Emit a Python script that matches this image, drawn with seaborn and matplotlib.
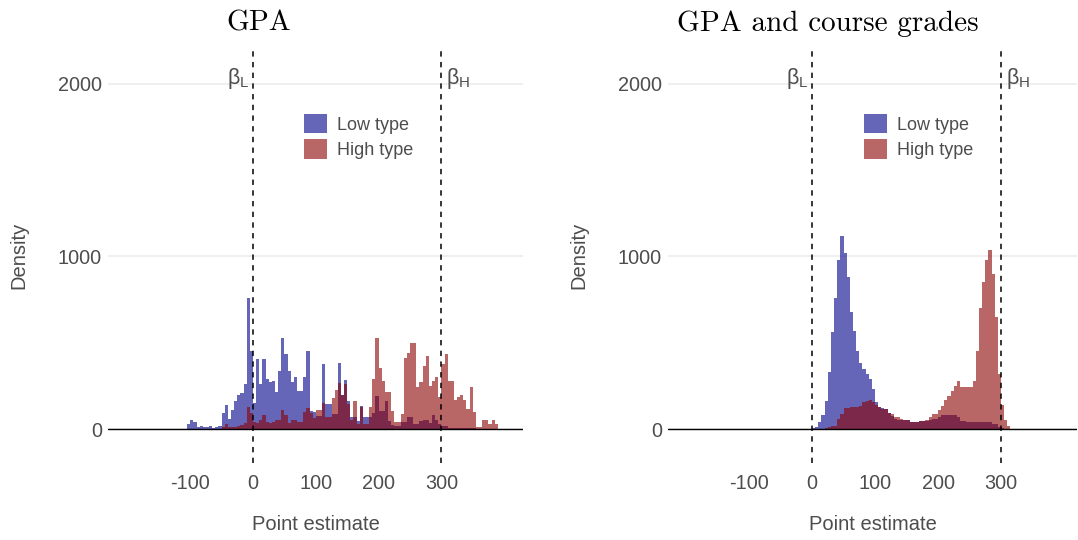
import numpy as np
import pandas as pd
import matplotlib
matplotlib.use("Agg")
import matplotlib.pyplot as plt
import matplotlib.transforms as mtransforms
from matplotlib.patches import Patch
import seaborn as sns

# ---------------- data (bin heights) ----------------
bin_width = 5
gpa_start = -105          # first bin edge, "GPA" panel
both_start = 0            # first bin edge, "GPA and course grades" panel

gpa_low = [30, 50, 40, 10, 15, 12, 10, 20, 8, 10, 15, 90, 140, 60, 110, 160, 200, 210, 260, 760,
           450, 150, 405, 260, 405, 290, 275, 280, 212, 337, 530, 434, 337, 270, 299, 222, 222, 299, 453, 106,
           100, 77, 77, 376, 145, 145, 87, 87, 385, 200, 283, 164, 67, 67, 48, 131, 67, 67, 67, 90,
           193, 106, 106, 164, 48, 25, 19, 19, 38, 38, 67, 67, 29, 29, 45, 50, 50, 35, 79, 50,
           31, 15, 15, 8, 8, 8, 8, 8, 8, 8, 8, 8, 0, 0, 0, 0, 0, 0, 0]
gpa_high = [0, 0, 0, 0, 0, 0, 0, 0, 0, 0, 0, 13, 29, 13, 13, 13, 19, 25, 33, 129,
            90, 42, 33, 52, 81, 42, 33, 42, 52, 52, 110, 81, 33, 52, 52, 42, 42, 100, 120, 90,
            62, 110, 110, 148, 71, 71, 177, 225, 264, 200, 260, 145, 52, 164, 29, 125, 29, 29, 125, 289,
            530, 356, 279, 212, 212, 106, 38, 38, 87, 414, 443, 501, 501, 241, 272, 368, 426, 252, 281, 300,
            185, 378, 435, 281, 281, 166, 185, 200, 166, 118, 243, 98, 12, 12, 54, 54, 27, 50, 30]

both_low = [3, 12, 40, 80, 160, 330, 560, 760, 980, 1120, 1020, 880, 680, 570, 450, 380, 350, 318, 289, 231,
            154, 130, 120, 116, 95, 77, 60, 50, 55, 50, 50, 40, 38, 40, 48, 48, 48, 55, 58, 58,
            70, 83, 83, 83, 83, 80, 70, 48, 45, 38, 38, 38, 38, 38, 38, 38, 38, 29, 29, 12,
            8, 0, 0]
both_high = [0, 0, 0, 0, 5, 10, 15, 20, 58, 87, 119, 119, 125, 125, 130, 135, 154, 160, 170, 154,
             140, 130, 116, 116, 95, 87, 70, 67, 60, 55, 50, 40, 38, 40, 48, 48, 50, 70, 87, 87,
             110, 135, 170, 190, 220, 250, 280, 245, 241, 241, 241, 280, 450, 700, 850, 980, 1040, 900, 650, 320,
             140, 50, 15]

x_ticks = [-100, 0, 100, 200, 300]
y_ticks = [0, 1000, 2000]
beta_low, beta_high = 0, 300
series_names = ["Low type", "High type"]
titles = ["GPA", "GPA and course grades"]

# ---------------- style ----------------
sns.set_theme(style="white")
plt.rcParams["font.family"] = ["Liberation Sans", "DejaVu Sans"]
plt.rcParams["axes.unicode_minus"] = False

LOW_C = "#00008B"
HIGH_C = "#8B0000"
TXT = "#4D4D4D"

W, H = 1078, 540
fig = plt.figure(figsize=(W / 100, H / 100), dpi=100)


def axes_px(l, t, r, b):
    return fig.add_axes([l / W, 1 - b / H, (r - l) / W, (b - t) / H])


def panel(ax, start, low, high, xlim):
    n = len(low)
    centers = start + bin_width * (np.arange(n) + 0.5)
    for vals, col in ((low, LOW_C), (high, HIGH_C)):
        df = pd.DataFrame({"x": centers, "w": np.asarray(vals, dtype=float)})
        sns.histplot(data=df, x="x", weights="w", binwidth=bin_width,
                     binrange=(start, start + bin_width * n), element="step", fill=True,
                     color=col, alpha=0.6, linewidth=0, ax=ax)
    ax.set_xlim(*xlim)
    ax.set_ylim(-197, 2214)
    ax.set_xticks(x_ticks)
    ax.set_yticks(y_ticks)
    ax.grid(axis="y", color="#EBEBEB", lw=1.1)
    ax.grid(axis="x", visible=False)
    ax.set_axisbelow(True)
    for s in ax.spines.values():
        s.set_visible(False)
    ax.axhline(0, color="black", lw=1.0, zorder=3)
    for b in (beta_low, beta_high):
        ax.axvline(b, color="black", ls=(0, (3.5, 3.5)), lw=1.1, zorder=4)
    ax.tick_params(axis="both", length=0, labelsize=14.3, labelcolor=TXT)
    ax.tick_params(axis="x", pad=8)
    ax.tick_params(axis="y", pad=4.3)
    ax.set_xlabel("Point estimate", fontsize=14.5, color=TXT, labelpad=16)
    ax.set_ylabel("Density", fontsize=14.5, color=TXT, labelpad=21)
    offl = mtransforms.offset_copy(ax.transData, fig=fig, x=-4, y=0, units="dots")
    offr = mtransforms.offset_copy(ax.transData, fig=fig, x=5, y=0, units="dots")
    ax.text(beta_low, 2000, r"$\mathregular{β_L}$", ha="right", va="baseline",
            fontsize=15.5, color=TXT, transform=offl)
    ax.text(beta_high, 2000, r"$\mathregular{β_H}$", ha="left", va="baseline",
            fontsize=15.5, color=TXT, transform=offr)


ax1 = axes_px(108, 47, 523, 463)
ax2 = axes_px(668, 47, 1077, 463)
panel(ax1, gpa_start, gpa_low, gpa_high, (-231, 430))
panel(ax2, both_start, both_low, both_high, (-228.6, 420.6))

handles = [Patch(facecolor=LOW_C, alpha=0.6, edgecolor="none"),
           Patch(facecolor=HIGH_C, alpha=0.6, edgecolor="none")]
for ax, xpx in ((ax1, 304), (ax2, 864)):
    leg = ax.legend(handles, series_names, loc="upper left",
                    bbox_to_anchor=(xpx / W, 1 - 114 / H), bbox_transform=fig.transFigure,
                    frameon=False, fontsize=13, handlelength=1.28, handleheight=1.28,
                    labelspacing=0.3, handletextpad=0.55, borderpad=0, borderaxespad=0)
    for t in leg.get_texts():
        t.set_color(TXT)

fig.text(259 / W, 1 - 31 / H, titles[0], fontfamily="cmr10", fontsize=21,
         ha="center", va="baseline", color="black")
fig.text(828 / W, 1 - 31 / H, titles[1], fontfamily="cmr10", fontsize=21,
         ha="center", va="baseline", color="black")

fig.savefig("out.png", dpi=100, facecolor="white")
